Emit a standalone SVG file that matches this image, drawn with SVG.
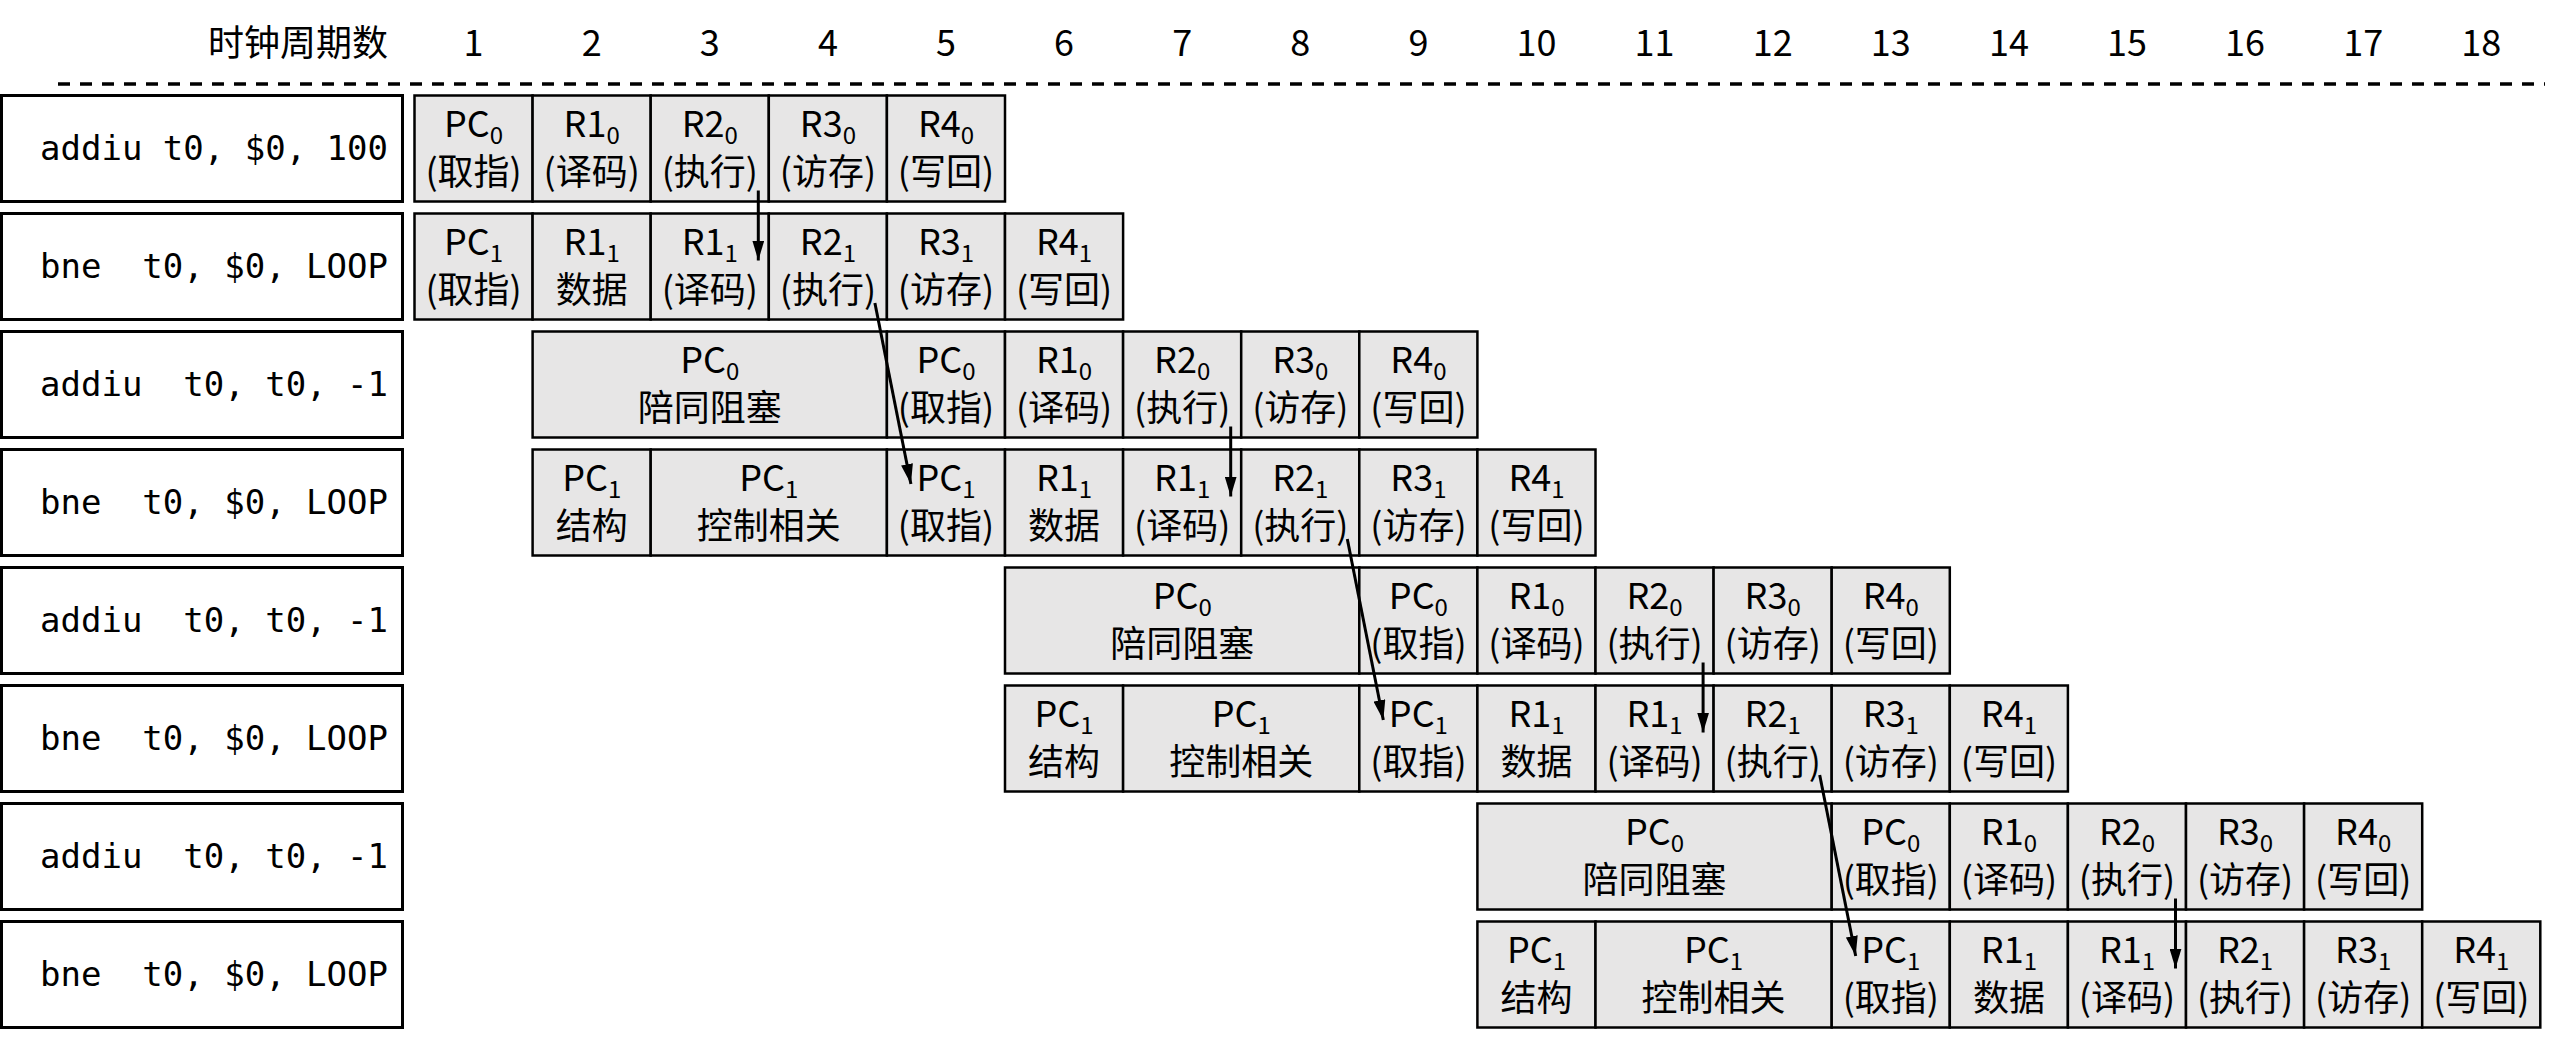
<svg xmlns="http://www.w3.org/2000/svg" width="2553" height="1043" viewBox="0 0 2553 1043">
<defs>
<style>
.lbl{fill:#fff;stroke:#000;stroke-width:3}
.c{fill:#e7e6e6;stroke:#000;stroke-width:2.5}
.t{font-family:"Noto Sans CJK SC","Noto Sans",sans-serif;font-size:36px;text-anchor:middle;fill:#000}
.m{font-family:"DejaVu Sans Mono","Liberation Mono",monospace;font-size:34px;fill:#000;white-space:pre}
.h{font-family:"Noto Sans CJK SC","Noto Sans",sans-serif;font-size:36px;fill:#000}
.s{font-size:24px}
.con{stroke:#000;stroke-width:3;fill:none}
</style>
<marker id="ah" viewBox="0 0 20 12" refX="20" refY="6" markerWidth="20" markerHeight="12" markerUnits="userSpaceOnUse" orient="auto">
<path d="M0,0 L20,6 L0,12 z" fill="#000"/>
</marker>
</defs>
<rect width="2553" height="1043" fill="#fff"/>
<g id="header">
<text class="h" x="388" y="56" text-anchor="end">时钟周期数</text>
<g class="h" text-anchor="middle">
<text x="473.6" y="56">1</text><text x="591.7" y="56">2</text><text x="709.8" y="56">3</text><text x="827.9" y="56">4</text><text x="946" y="56">5</text><text x="1064.1" y="56">6</text><text x="1182.2" y="56">7</text><text x="1300.3" y="56">8</text><text x="1418.4" y="56">9</text><text x="1536.5" y="56">10</text><text x="1654.6" y="56">11</text><text x="1772.7" y="56">12</text><text x="1890.8" y="56">13</text><text x="2008.9" y="56">14</text><text x="2127" y="56">15</text><text x="2245.1" y="56">16</text><text x="2363.2" y="56">17</text><text x="2481.3" y="56">18</text>
</g>
<line x1="58" y1="84" x2="2545" y2="84" stroke="#000" stroke-width="3.5" stroke-dasharray="12 10"/>
</g>

<g id="row1">
<rect class="lbl" x="1.5" y="95.5" width="401" height="106"/>
<text class="m" x="40" y="160">addiu t0, $0, 100</text>
<rect class="c" x="414.5" y="95.5" width="118.1" height="106"/><text class="t"><tspan x="473.6" y="137">PC<tspan class="s" dy="7">0</tspan></tspan><tspan x="473.6" y="184.5">(取指)</tspan></text>
<rect class="c" x="532.6" y="95.5" width="118.1" height="106"/><text class="t"><tspan x="591.7" y="137">R1<tspan class="s" dy="7">0</tspan></tspan><tspan x="591.7" y="184.5">(译码)</tspan></text>
<rect class="c" x="650.7" y="95.5" width="118.1" height="106"/><text class="t"><tspan x="709.8" y="137">R2<tspan class="s" dy="7">0</tspan></tspan><tspan x="709.8" y="184.5">(执行)</tspan></text>
<rect class="c" x="768.8" y="95.5" width="118.1" height="106"/><text class="t"><tspan x="827.9" y="137">R3<tspan class="s" dy="7">0</tspan></tspan><tspan x="827.9" y="184.5">(访存)</tspan></text>
<rect class="c" x="886.9" y="95.5" width="118.1" height="106"/><text class="t"><tspan x="946" y="137">R4<tspan class="s" dy="7">0</tspan></tspan><tspan x="946" y="184.5">(写回)</tspan></text>
</g>

<g id="row2">
<rect class="lbl" x="1.5" y="213.5" width="401" height="106"/>
<text class="m" x="40" y="278">bne  t0, $0, LOOP</text>
<rect class="c" x="414.5" y="213.5" width="118.1" height="106"/><text class="t"><tspan x="473.6" y="255">PC<tspan class="s" dy="7">1</tspan></tspan><tspan x="473.6" y="302.5">(取指)</tspan></text>
<rect class="c" x="532.6" y="213.5" width="118.1" height="106"/><text class="t"><tspan x="591.7" y="255">R1<tspan class="s" dy="7">1</tspan></tspan><tspan x="591.7" y="302.5">数据</tspan></text>
<rect class="c" x="650.7" y="213.5" width="118.1" height="106"/><text class="t"><tspan x="709.8" y="255">R1<tspan class="s" dy="7">1</tspan></tspan><tspan x="709.8" y="302.5">(译码)</tspan></text>
<rect class="c" x="768.8" y="213.5" width="118.1" height="106"/><text class="t"><tspan x="827.9" y="255">R2<tspan class="s" dy="7">1</tspan></tspan><tspan x="827.9" y="302.5">(执行)</tspan></text>
<rect class="c" x="886.9" y="213.5" width="118.1" height="106"/><text class="t"><tspan x="946" y="255">R3<tspan class="s" dy="7">1</tspan></tspan><tspan x="946" y="302.5">(访存)</tspan></text>
<rect class="c" x="1005" y="213.5" width="118.1" height="106"/><text class="t"><tspan x="1064.1" y="255">R4<tspan class="s" dy="7">1</tspan></tspan><tspan x="1064.1" y="302.5">(写回)</tspan></text>
</g>

<g id="row3">
<rect class="lbl" x="1.5" y="331.5" width="401" height="106"/>
<text class="m" x="40" y="396">addiu  t0, t0, -1</text>
<rect class="c" x="532.6" y="331.5" width="354.3" height="106"/><text class="t"><tspan x="709.8" y="373">PC<tspan class="s" dy="7">0</tspan></tspan><tspan x="709.8" y="420.5">陪同阻塞</tspan></text>
<rect class="c" x="886.9" y="331.5" width="118.1" height="106"/><text class="t"><tspan x="946" y="373">PC<tspan class="s" dy="7">0</tspan></tspan><tspan x="946" y="420.5">(取指)</tspan></text>
<rect class="c" x="1005" y="331.5" width="118.1" height="106"/><text class="t"><tspan x="1064.1" y="373">R1<tspan class="s" dy="7">0</tspan></tspan><tspan x="1064.1" y="420.5">(译码)</tspan></text>
<rect class="c" x="1123.1" y="331.5" width="118.1" height="106"/><text class="t"><tspan x="1182.2" y="373">R2<tspan class="s" dy="7">0</tspan></tspan><tspan x="1182.2" y="420.5">(执行)</tspan></text>
<rect class="c" x="1241.2" y="331.5" width="118.1" height="106"/><text class="t"><tspan x="1300.3" y="373">R3<tspan class="s" dy="7">0</tspan></tspan><tspan x="1300.3" y="420.5">(访存)</tspan></text>
<rect class="c" x="1359.3" y="331.5" width="118.1" height="106"/><text class="t"><tspan x="1418.4" y="373">R4<tspan class="s" dy="7">0</tspan></tspan><tspan x="1418.4" y="420.5">(写回)</tspan></text>
</g>

<g id="row4">
<rect class="lbl" x="1.5" y="449.5" width="401" height="106"/>
<text class="m" x="40" y="514">bne  t0, $0, LOOP</text>
<rect class="c" x="532.6" y="449.5" width="118.1" height="106"/><text class="t"><tspan x="591.7" y="491">PC<tspan class="s" dy="7">1</tspan></tspan><tspan x="591.7" y="538.5">结构</tspan></text>
<rect class="c" x="650.7" y="449.5" width="236.2" height="106"/><text class="t"><tspan x="768.8" y="491">PC<tspan class="s" dy="7">1</tspan></tspan><tspan x="768.8" y="538.5">控制相关</tspan></text>
<rect class="c" x="886.9" y="449.5" width="118.1" height="106"/><text class="t"><tspan x="946" y="491">PC<tspan class="s" dy="7">1</tspan></tspan><tspan x="946" y="538.5">(取指)</tspan></text>
<rect class="c" x="1005" y="449.5" width="118.1" height="106"/><text class="t"><tspan x="1064.1" y="491">R1<tspan class="s" dy="7">1</tspan></tspan><tspan x="1064.1" y="538.5">数据</tspan></text>
<rect class="c" x="1123.1" y="449.5" width="118.1" height="106"/><text class="t"><tspan x="1182.2" y="491">R1<tspan class="s" dy="7">1</tspan></tspan><tspan x="1182.2" y="538.5">(译码)</tspan></text>
<rect class="c" x="1241.2" y="449.5" width="118.1" height="106"/><text class="t"><tspan x="1300.3" y="491">R2<tspan class="s" dy="7">1</tspan></tspan><tspan x="1300.3" y="538.5">(执行)</tspan></text>
<rect class="c" x="1359.3" y="449.5" width="118.1" height="106"/><text class="t"><tspan x="1418.4" y="491">R3<tspan class="s" dy="7">1</tspan></tspan><tspan x="1418.4" y="538.5">(访存)</tspan></text>
<rect class="c" x="1477.4" y="449.5" width="118.1" height="106"/><text class="t"><tspan x="1536.5" y="491">R4<tspan class="s" dy="7">1</tspan></tspan><tspan x="1536.5" y="538.5">(写回)</tspan></text>
</g>

<g id="row5">
<rect class="lbl" x="1.5" y="567.5" width="401" height="106"/>
<text class="m" x="40" y="632">addiu  t0, t0, -1</text>
<rect class="c" x="1005" y="567.5" width="354.3" height="106"/><text class="t"><tspan x="1182.2" y="609">PC<tspan class="s" dy="7">0</tspan></tspan><tspan x="1182.2" y="656.5">陪同阻塞</tspan></text>
<rect class="c" x="1359.3" y="567.5" width="118.1" height="106"/><text class="t"><tspan x="1418.4" y="609">PC<tspan class="s" dy="7">0</tspan></tspan><tspan x="1418.4" y="656.5">(取指)</tspan></text>
<rect class="c" x="1477.4" y="567.5" width="118.1" height="106"/><text class="t"><tspan x="1536.5" y="609">R1<tspan class="s" dy="7">0</tspan></tspan><tspan x="1536.5" y="656.5">(译码)</tspan></text>
<rect class="c" x="1595.5" y="567.5" width="118.1" height="106"/><text class="t"><tspan x="1654.6" y="609">R2<tspan class="s" dy="7">0</tspan></tspan><tspan x="1654.6" y="656.5">(执行)</tspan></text>
<rect class="c" x="1713.6" y="567.5" width="118.1" height="106"/><text class="t"><tspan x="1772.7" y="609">R3<tspan class="s" dy="7">0</tspan></tspan><tspan x="1772.7" y="656.5">(访存)</tspan></text>
<rect class="c" x="1831.7" y="567.5" width="118.1" height="106"/><text class="t"><tspan x="1890.8" y="609">R4<tspan class="s" dy="7">0</tspan></tspan><tspan x="1890.8" y="656.5">(写回)</tspan></text>
</g>

<g id="row6">
<rect class="lbl" x="1.5" y="685.5" width="401" height="106"/>
<text class="m" x="40" y="750">bne  t0, $0, LOOP</text>
<rect class="c" x="1005" y="685.5" width="118.1" height="106"/><text class="t"><tspan x="1064.1" y="727">PC<tspan class="s" dy="7">1</tspan></tspan><tspan x="1064.1" y="774.5">结构</tspan></text>
<rect class="c" x="1123.1" y="685.5" width="236.2" height="106"/><text class="t"><tspan x="1241.2" y="727">PC<tspan class="s" dy="7">1</tspan></tspan><tspan x="1241.2" y="774.5">控制相关</tspan></text>
<rect class="c" x="1359.3" y="685.5" width="118.1" height="106"/><text class="t"><tspan x="1418.4" y="727">PC<tspan class="s" dy="7">1</tspan></tspan><tspan x="1418.4" y="774.5">(取指)</tspan></text>
<rect class="c" x="1477.4" y="685.5" width="118.1" height="106"/><text class="t"><tspan x="1536.5" y="727">R1<tspan class="s" dy="7">1</tspan></tspan><tspan x="1536.5" y="774.5">数据</tspan></text>
<rect class="c" x="1595.5" y="685.5" width="118.1" height="106"/><text class="t"><tspan x="1654.6" y="727">R1<tspan class="s" dy="7">1</tspan></tspan><tspan x="1654.6" y="774.5">(译码)</tspan></text>
<rect class="c" x="1713.6" y="685.5" width="118.1" height="106"/><text class="t"><tspan x="1772.7" y="727">R2<tspan class="s" dy="7">1</tspan></tspan><tspan x="1772.7" y="774.5">(执行)</tspan></text>
<rect class="c" x="1831.7" y="685.5" width="118.1" height="106"/><text class="t"><tspan x="1890.8" y="727">R3<tspan class="s" dy="7">1</tspan></tspan><tspan x="1890.8" y="774.5">(访存)</tspan></text>
<rect class="c" x="1949.8" y="685.5" width="118.1" height="106"/><text class="t"><tspan x="2008.9" y="727">R4<tspan class="s" dy="7">1</tspan></tspan><tspan x="2008.9" y="774.5">(写回)</tspan></text>
</g>

<g id="row7">
<rect class="lbl" x="1.5" y="803.5" width="401" height="106"/>
<text class="m" x="40" y="868">addiu  t0, t0, -1</text>
<rect class="c" x="1477.4" y="803.5" width="354.3" height="106"/><text class="t"><tspan x="1654.6" y="845">PC<tspan class="s" dy="7">0</tspan></tspan><tspan x="1654.6" y="892.5">陪同阻塞</tspan></text>
<rect class="c" x="1831.7" y="803.5" width="118.1" height="106"/><text class="t"><tspan x="1890.8" y="845">PC<tspan class="s" dy="7">0</tspan></tspan><tspan x="1890.8" y="892.5">(取指)</tspan></text>
<rect class="c" x="1949.8" y="803.5" width="118.1" height="106"/><text class="t"><tspan x="2008.9" y="845">R1<tspan class="s" dy="7">0</tspan></tspan><tspan x="2008.9" y="892.5">(译码)</tspan></text>
<rect class="c" x="2067.9" y="803.5" width="118.1" height="106"/><text class="t"><tspan x="2127" y="845">R2<tspan class="s" dy="7">0</tspan></tspan><tspan x="2127" y="892.5">(执行)</tspan></text>
<rect class="c" x="2186" y="803.5" width="118.1" height="106"/><text class="t"><tspan x="2245.1" y="845">R3<tspan class="s" dy="7">0</tspan></tspan><tspan x="2245.1" y="892.5">(访存)</tspan></text>
<rect class="c" x="2304.1" y="803.5" width="118.1" height="106"/><text class="t"><tspan x="2363.2" y="845">R4<tspan class="s" dy="7">0</tspan></tspan><tspan x="2363.2" y="892.5">(写回)</tspan></text>
</g>

<g id="row8">
<rect class="lbl" x="1.5" y="921.5" width="401" height="106"/>
<text class="m" x="40" y="986">bne  t0, $0, LOOP</text>
<rect class="c" x="1477.4" y="921.5" width="118.1" height="106"/><text class="t"><tspan x="1536.5" y="963">PC<tspan class="s" dy="7">1</tspan></tspan><tspan x="1536.5" y="1010.5">结构</tspan></text>
<rect class="c" x="1595.5" y="921.5" width="236.2" height="106"/><text class="t"><tspan x="1713.6" y="963">PC<tspan class="s" dy="7">1</tspan></tspan><tspan x="1713.6" y="1010.5">控制相关</tspan></text>
<rect class="c" x="1831.7" y="921.5" width="118.1" height="106"/><text class="t"><tspan x="1890.8" y="963">PC<tspan class="s" dy="7">1</tspan></tspan><tspan x="1890.8" y="1010.5">(取指)</tspan></text>
<rect class="c" x="1949.8" y="921.5" width="118.1" height="106"/><text class="t"><tspan x="2008.9" y="963">R1<tspan class="s" dy="7">1</tspan></tspan><tspan x="2008.9" y="1010.5">数据</tspan></text>
<rect class="c" x="2067.9" y="921.5" width="118.1" height="106"/><text class="t"><tspan x="2127" y="963">R1<tspan class="s" dy="7">1</tspan></tspan><tspan x="2127" y="1010.5">(译码)</tspan></text>
<rect class="c" x="2186" y="921.5" width="118.1" height="106"/><text class="t"><tspan x="2245.1" y="963">R2<tspan class="s" dy="7">1</tspan></tspan><tspan x="2245.1" y="1010.5">(执行)</tspan></text>
<rect class="c" x="2304.1" y="921.5" width="118.1" height="106"/><text class="t"><tspan x="2363.2" y="963">R3<tspan class="s" dy="7">1</tspan></tspan><tspan x="2363.2" y="1010.5">(访存)</tspan></text>
<rect class="c" x="2422.2" y="921.5" width="118.1" height="106"/><text class="t"><tspan x="2481.3" y="963">R4<tspan class="s" dy="7">1</tspan></tspan><tspan x="2481.3" y="1010.5">(写回)</tspan></text>
</g>

<g id="connectors">
<line class="con" x1="758.3" y1="190.5" x2="758.3" y2="260.5" marker-end="url(#ah)"/>
<line class="con" x1="1230.7" y1="426.5" x2="1230.7" y2="496.5" marker-end="url(#ah)"/>
<line class="con" x1="1703.1" y1="662.5" x2="1703.1" y2="732.5" marker-end="url(#ah)"/>
<line class="con" x1="2175.5" y1="898.5" x2="2175.5" y2="968.5" marker-end="url(#ah)"/>
<line class="con" x1="874.9" y1="303" x2="910.9" y2="484" marker-end="url(#ah)"/>
<line class="con" x1="1347.3" y1="539" x2="1383.3" y2="720" marker-end="url(#ah)"/>
<line class="con" x1="1819.7" y1="775" x2="1855.7" y2="956" marker-end="url(#ah)"/>
</g>
</svg>
